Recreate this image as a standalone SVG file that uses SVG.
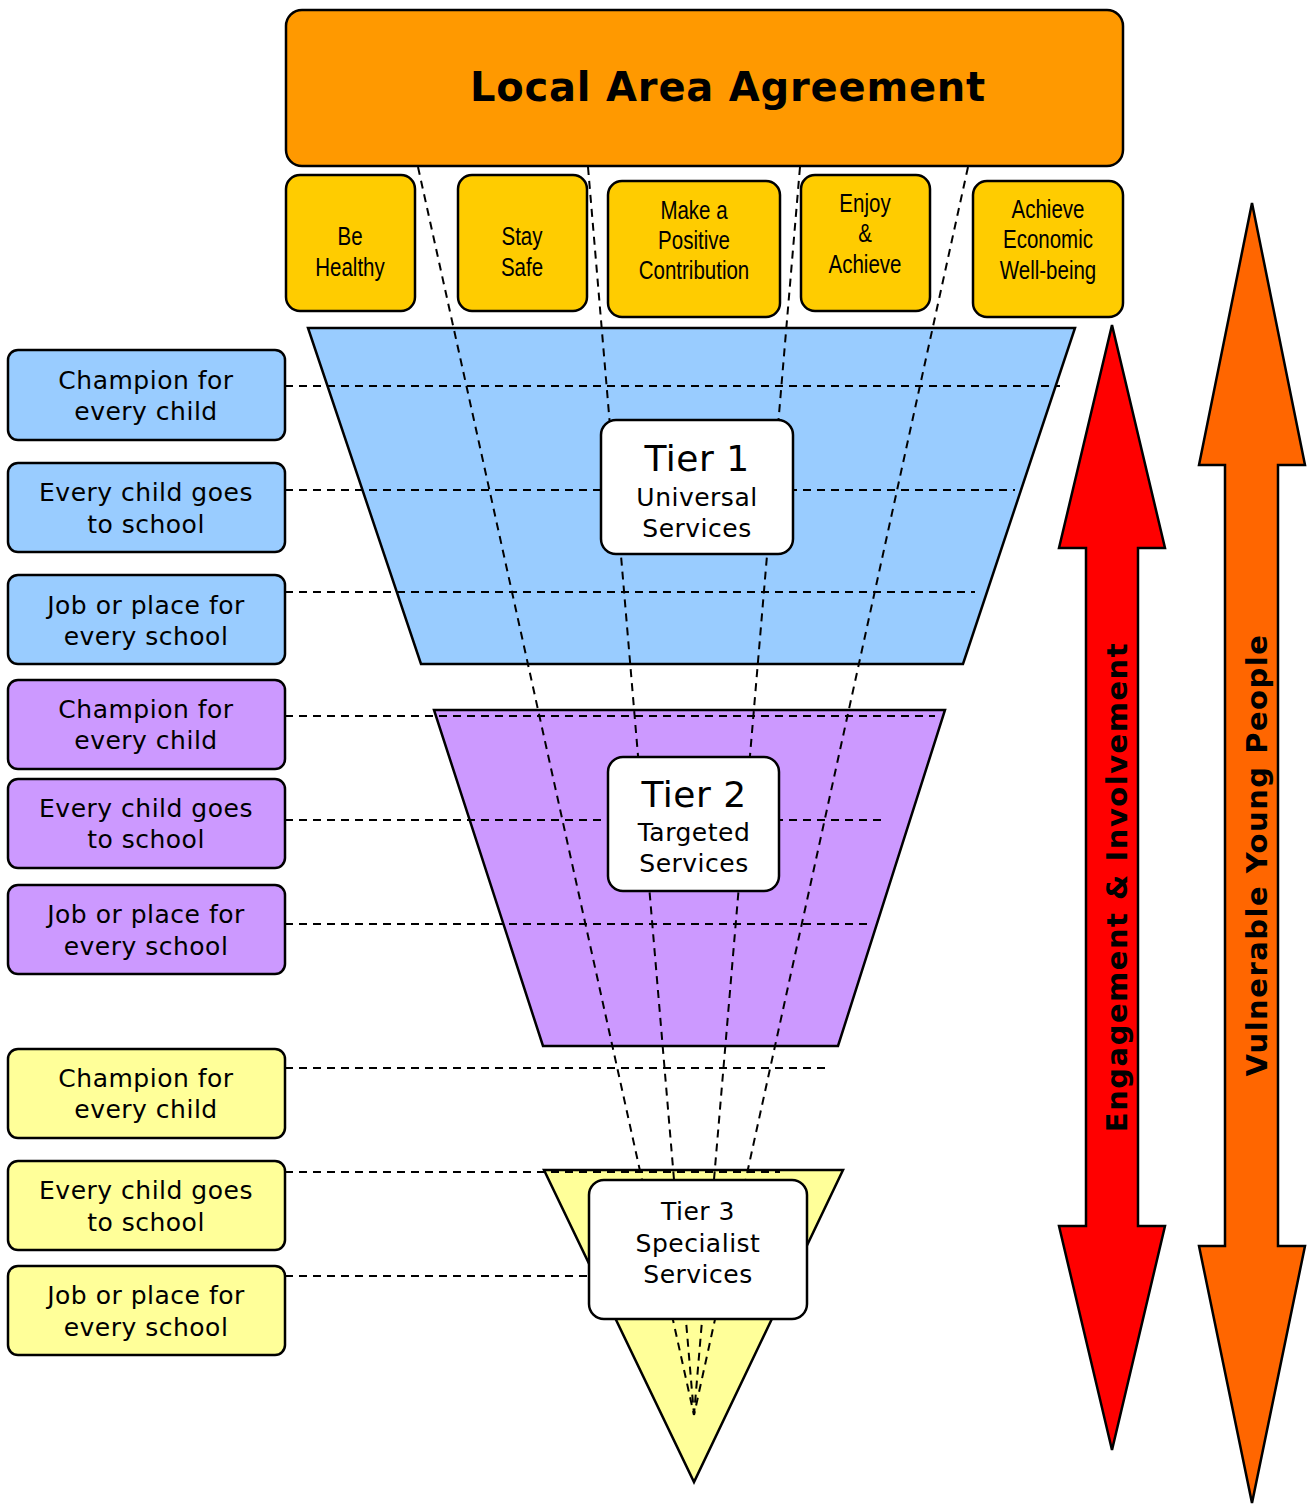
<svg xmlns="http://www.w3.org/2000/svg" width="1308" height="1506" viewBox="0 0 1308 1506">
<style>
.box{stroke:#000;stroke-width:2.5}
.shape{stroke:#000;stroke-width:2.5}
.dash{stroke:#000;stroke-width:2;stroke-dasharray:8 6;fill:none}
.v{font-family:"DejaVu Sans",Verdana,sans-serif;text-anchor:middle;fill:#000}
.n{font-family:"Liberation Sans",Arial,sans-serif;text-anchor:middle;fill:#000;font-size:25px}
.lab{font-size:25px;letter-spacing:0.5px}
.blue{fill:#99ccff}.purple{fill:#cc99ff}.yellow{fill:#ffff99}.gold{fill:#ffcc00}
</style>
<rect width="1308" height="1506" fill="#fff"/>

<g id="tier1-shape"><polygon class="shape blue" points="308,328 1075,328 963,664 421,664"/></g>
<g id="tier2-shape"><polygon class="shape purple" points="434,710 945,710 838,1046 543,1046"/></g>
<g id="tier3-shape"><polygon class="shape yellow" points="544,1170 843,1170 694,1482"/></g>

<g id="connectors">
<line class="dash" x1="418" y1="167" x2="694" y2="1415"/>
<line class="dash" x1="588" y1="167" x2="694" y2="1415"/>
<line class="dash" x1="800" y1="167" x2="694" y2="1415"/>
<line class="dash" x1="968" y1="167" x2="694" y2="1415"/>
<line class="dash" x1="285" y1="386" x2="1060" y2="386"/>
<line class="dash" x1="285" y1="490" x2="1015" y2="490"/>
<line class="dash" x1="285" y1="592" x2="975" y2="592"/>
<line class="dash" x1="285" y1="716" x2="935" y2="716"/>
<line class="dash" x1="285" y1="820" x2="885" y2="820"/>
<line class="dash" x1="285" y1="924" x2="868" y2="924"/>
<line class="dash" x1="285" y1="1068" x2="825" y2="1068"/>
<line class="dash" x1="285" y1="1172" x2="780" y2="1172"/>
<line class="dash" x1="285" y1="1276" x2="590" y2="1276"/>
</g>

<g id="laa"><rect class="box" x="286" y="10" width="837" height="156" rx="16" fill="#ff9900"/>
<text class="v" x="728" y="101" font-size="40" font-weight="bold" letter-spacing="0.8">Local Area Agreement</text></g>

<g id="be-healthy"><rect class="box gold" x="286" y="175" width="129" height="136" rx="14"/>
<text class="n" transform="translate(350,245) scale(0.82,1)">Be</text><text class="n" transform="translate(350,276) scale(0.82,1)">Healthy</text></g>
<g id="stay-safe"><rect class="box gold" x="458" y="175" width="129" height="136" rx="14"/>
<text class="n" transform="translate(522,245) scale(0.82,1)">Stay</text><text class="n" transform="translate(522,276) scale(0.82,1)">Safe</text></g>
<g id="positive"><rect class="box gold" x="608" y="181" width="172" height="136" rx="14"/>
<text class="n" transform="translate(694,219) scale(0.82,1)">Make a</text><text class="n" transform="translate(694,249) scale(0.82,1)">Positive</text><text class="n" transform="translate(694,279) scale(0.82,1)">Contribution</text></g>
<g id="enjoy"><rect class="box gold" x="801" y="175" width="129" height="136" rx="14"/>
<text class="n" transform="translate(865,212) scale(0.82,1)">Enjoy</text><text class="n" transform="translate(865,242) scale(0.82,1)">&amp;</text><text class="n" transform="translate(865,273) scale(0.82,1)">Achieve</text></g>
<g id="economic"><rect class="box gold" x="973" y="181" width="150" height="136" rx="14"/>
<text class="n" transform="translate(1048,218) scale(0.82,1)">Achieve</text><text class="n" transform="translate(1048,248) scale(0.82,1)">Economic</text><text class="n" transform="translate(1048,279) scale(0.82,1)">Well-being</text></g>

<g id="tier1"><rect class="box" x="601" y="420" width="192" height="134" rx="15" fill="#fff"/>
<text class="v" x="697" y="471" font-size="36" letter-spacing="0.5">Tier 1</text>
<text class="v lab" x="697" y="506">Universal</text><text class="v lab" x="697" y="537">Services</text></g>
<g id="tier2"><rect class="box" x="608" y="757" width="171" height="134" rx="15" fill="#fff"/>
<text class="v" x="694" y="807" font-size="36" letter-spacing="0.5">Tier 2</text>
<text class="v lab" x="694" y="841">Targeted</text><text class="v lab" x="694" y="872">Services</text></g>
<g id="tier3"><rect class="box" x="589" y="1180" width="218" height="139" rx="15" fill="#fff"/>
<text class="v lab" x="698" y="1220">Tier 3</text>
<text class="v lab" x="698" y="1252">Specialist</text><text class="v lab" x="698" y="1283">Services</text></g>

<g id="l1a"><rect class="box blue" x="8" y="350" width="277" height="90" rx="10"/>
<text class="v lab" x="146" y="389">Champion for</text><text class="v lab" x="146" y="420">every child</text></g>
<g id="l1b"><rect class="box blue" x="8" y="463" width="277" height="89" rx="10"/>
<text class="v lab" x="146" y="501">Every child goes</text><text class="v lab" x="146" y="533">to school</text></g>
<g id="l1c"><rect class="box blue" x="8" y="575" width="277" height="89" rx="10"/>
<text class="v lab" x="146" y="614">Job or place for</text><text class="v lab" x="146" y="645">every school</text></g>

<g id="l2a"><rect class="box purple" x="8" y="680" width="277" height="89" rx="10"/>
<text class="v lab" x="146" y="718">Champion for</text><text class="v lab" x="146" y="749">every child</text></g>
<g id="l2b"><rect class="box purple" x="8" y="779" width="277" height="89" rx="10"/>
<text class="v lab" x="146" y="817">Every child goes</text><text class="v lab" x="146" y="848">to school</text></g>
<g id="l2c"><rect class="box purple" x="8" y="885" width="277" height="89" rx="10"/>
<text class="v lab" x="146" y="923">Job or place for</text><text class="v lab" x="146" y="955">every school</text></g>

<g id="l3a"><rect class="box yellow" x="8" y="1049" width="277" height="89" rx="10"/>
<text class="v lab" x="146" y="1087">Champion for</text><text class="v lab" x="146" y="1118">every child</text></g>
<g id="l3b"><rect class="box yellow" x="8" y="1161" width="277" height="89" rx="10"/>
<text class="v lab" x="146" y="1199">Every child goes</text><text class="v lab" x="146" y="1231">to school</text></g>
<g id="l3c"><rect class="box yellow" x="8" y="1266" width="277" height="89" rx="10"/>
<text class="v lab" x="146" y="1304">Job or place for</text><text class="v lab" x="146" y="1336">every school</text></g>

<g id="engagement-arrow"><polygon class="shape" fill="#ff0000" points="1112,325 1165,548 1138,548 1138,1226 1165,1226 1112,1450 1059,1226 1086,1226 1086,548 1059,548"/>
<text class="v" transform="translate(1127,887) rotate(-90)" font-size="29" font-weight="bold" letter-spacing="1.5">Engagement &amp; Involvement</text></g>
<g id="vulnerable-arrow"><polygon class="shape" fill="#ff6600" points="1252,203 1305,465 1278,465 1278,1246 1305,1246 1252,1503 1199,1246 1225,1246 1225,465 1199,465"/>
<text class="v" transform="translate(1267,855) rotate(-90)" font-size="29" font-weight="bold" letter-spacing="1.5">Vulnerable Young People</text></g>
</svg>
